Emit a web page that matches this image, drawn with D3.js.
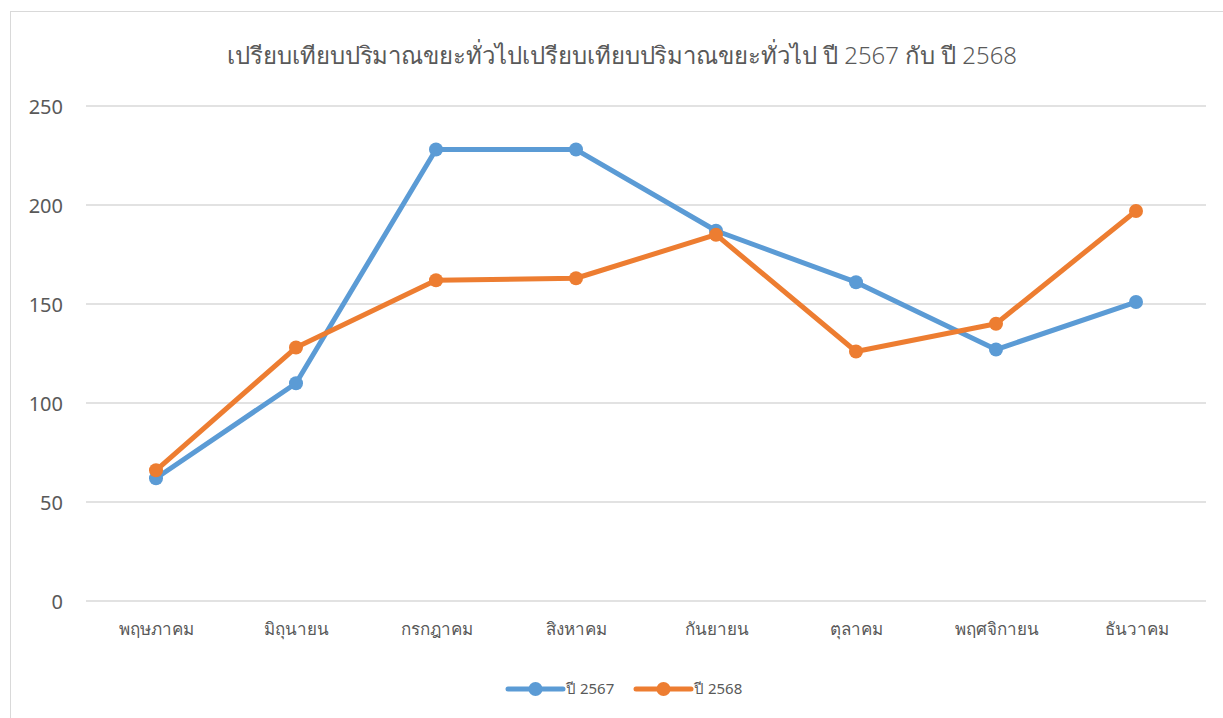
<!DOCTYPE html>
<html>
<head>
<meta charset="utf-8">
<script src="https://cdn.jsdelivr.net/npm/d3@7"></script>
<style>
  body { margin: 0; background: #fff; }
  text { font-family: "Noto Sans", "Open Sans", sans-serif; }
</style>
</head>
<body>
<div id="chart"></div>
<script>
// Data
const months = ["พฤษภาคม", "มิถุนายน", "กรกฎาคม", "สิงหาคม", "กันยายน", "ตุลาคม", "พฤศจิกายน", "ธันวาคม"];
const y2567 = [62, 110, 228, 228, 187, 161, 127, 151];
const y2568 = [66, 128, 162, 163, 185, 126, 140, 197];
const yTicks = [0, 50, 100, 150, 200, 250];
const seriesNames = ["ปี 2567", "ปี 2568"];
const colors = ["#5B9BD5", "#ED7D31"];

const w = 1223, h = 718;
const plot = {left: 86, right: 1206, top: 106, bottom: 601};

const svg = d3.select("#chart").append("svg")
  .attr("width", w)
  .attr("height", h);

// chart border
svg.append("rect")
  .attr("x", 10.5).attr("y", 11.5)
  .attr("width", 1220).attr("height", 720)
  .attr("fill", "#fff")
  .attr("stroke", "#d9d9d9");

const x = d3.scalePoint()
  .domain(months)
  .range([plot.left, plot.right])
  .padding(0.5);

const y = d3.scaleLinear()
  .domain([0, 250])
  .range([plot.bottom, plot.top]);

// gridlines
svg.append("g")
  .selectAll("line")
  .data(yTicks)
  .enter()
  .append("line")
  .attr("x1", plot.left)
  .attr("x2", plot.right)
  .attr("y1", d => y(d))
  .attr("y2", d => y(d))
  .attr("stroke", "#d9d9d9")
  .attr("stroke-width", 1.3);

// y axis labels
const yAxis = d3.axisLeft(y).tickValues(yTicks).tickSize(0).tickPadding(0);
const gy = svg.append("g")
  .attr("transform", "translate(63,0)")
  .call(yAxis);
gy.select(".domain").remove();
gy.selectAll("text")
  .attr("fill", "#595959")
  .style("font-size", "20px")
  .attr("dy", "0.35em");

// x axis labels
const xAxis = d3.axisBottom(x).tickSize(0).tickPadding(0);
const gx = svg.append("g")
  .attr("transform", "translate(0,623)")
  .call(xAxis);
gx.select(".domain").remove();
gx.selectAll("text")
  .attr("fill", "#595959")
  .style("font-size", "17px");

// lines and markers
const series = [y2567, y2568];
const line = d3.line()
  .x((d, i) => x(months[i]))
  .y(d => y(d));

series.forEach((vals, s) => {
  svg.append("path")
    .datum(vals)
    .attr("d", line)
    .attr("fill", "none")
    .attr("stroke", colors[s])
    .attr("stroke-width", 5)
    .attr("stroke-linejoin", "round")
    .attr("stroke-linecap", "round");

  svg.selectAll(".m" + s)
    .data(vals)
    .enter()
    .append("circle")
    .attr("class", "m" + s)
    .attr("cx", (d, i) => x(months[i]))
    .attr("cy", d => y(d))
    .attr("r", 7)
    .attr("fill", colors[s]);
});

// title
svg.append("text")
  .attr("x", 622)
  .attr("y", 64)
  .attr("text-anchor", "middle")
  .attr("fill", "#595959")
  .style("font-size", "24px")
  .style("font-weight", "300")
  .attr("textLength", 790)
  .attr("lengthAdjust", "spacingAndGlyphs")
  .text("เปรียบเทียบปริมาณขยะทั่วไปเปรียบเทียบปริมาณขยะทั่วไป ปี 2567 กับ ปี 2568");

// legend
const legend = svg.append("g").attr("transform", "translate(508,689)");
seriesNames.forEach((name, s) => {
  const g = legend.append("g").attr("transform", "translate(" + (s * 128) + ",0)");
  g.append("line")
    .attr("x1", 0).attr("x2", 55)
    .attr("stroke", colors[s])
    .attr("stroke-width", 5)
    .attr("stroke-linecap", "round");
  g.append("circle")
    .attr("cx", 27.5).attr("r", 7)
    .attr("fill", colors[s]);
  g.append("text")
    .attr("x", 58)
    .attr("dy", "0.35em")
    .attr("fill", "#595959")
    .style("font-size", "15px")
    .text(name);
});
</script>
</body>
</html>
